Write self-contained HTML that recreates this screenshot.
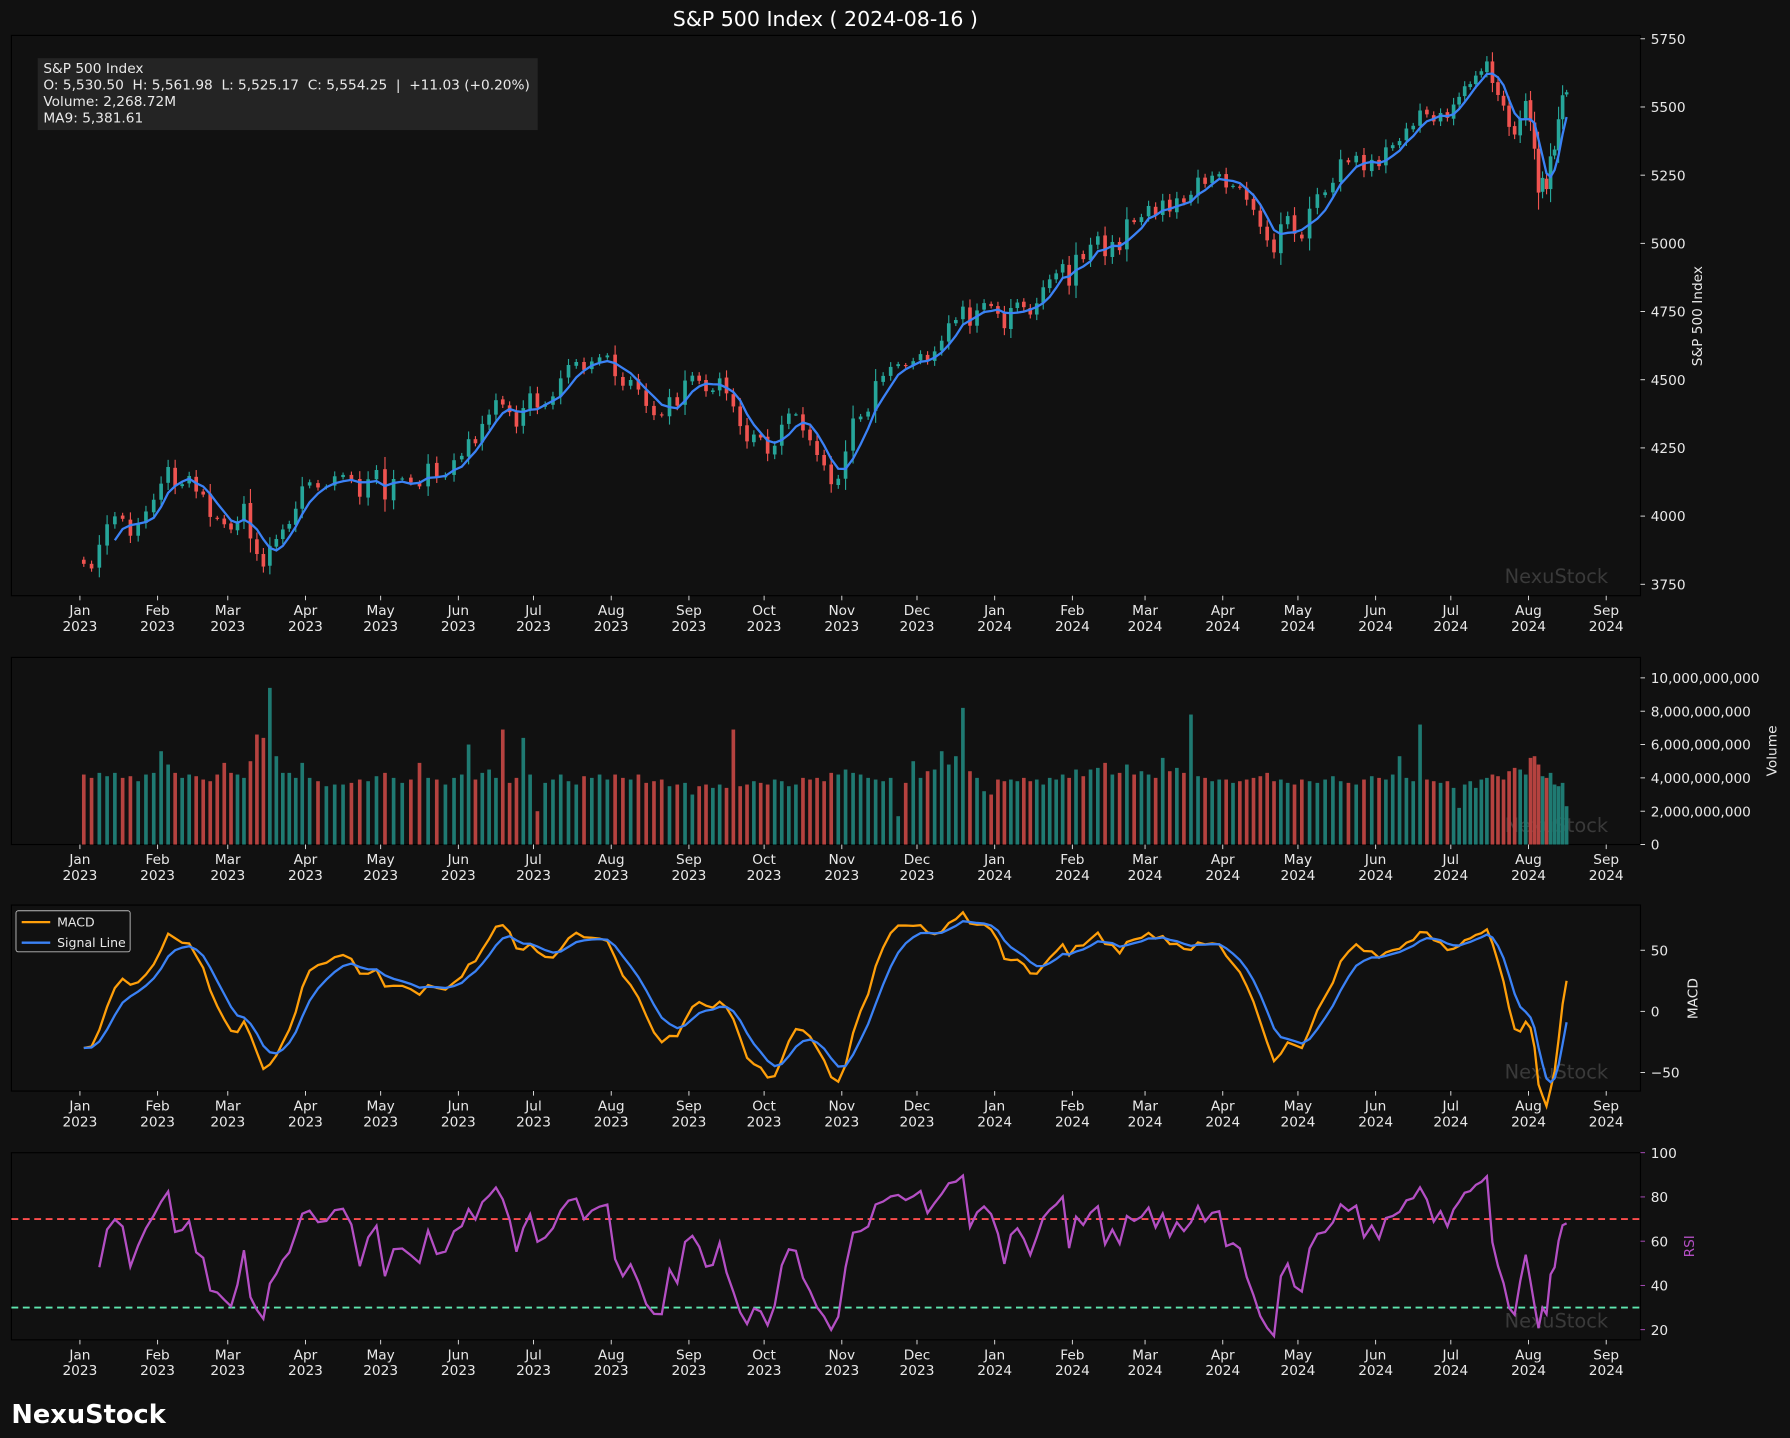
<!DOCTYPE html>
<html><head><meta charset="utf-8"><style>
html,body{margin:0;padding:0;background:#111111;}
svg{display:block;}
text{font-family:"DejaVu Sans","Liberation Sans",sans-serif;}
</style></head><body>
<svg id="chart" width="1790" height="1438" viewBox="0 0 1568 1260" preserveAspectRatio="none" xmlns="http://www.w3.org/2000/svg">
<rect x="0" y="0" width="1568" height="1260" fill="#111111"/>
</svg>
<script>
const months=['2023-01','2023-02','2023-03','2023-04','2023-05','2023-06','2023-07','2023-08','2023-09','2023-10','2023-11','2023-12','2024-01','2024-02','2024-03','2024-04','2024-05','2024-06','2024-07','2024-08'];
const closes=[
[3825,3808,3895,3970,3999,3990,3928,3972,4017,4060],
[4119,4180,4110,4117,4147,4090,4079,3997,3991,3970],
[3951,3981,4045,3918,3861,3815,3891,3916,3951,3971,4027,4109],
[4124,4105,4109,4146,4151,4133,4071,4135,4169],
[4061,4136,4138,4124,4109,4192,4145,4151,4205],
[4221,4282,4267,4338,4372,4425,4409,4381,4328,4396,4450],
[4398,4411,4439,4505,4554,4565,4536,4567,4582,4589],
[4513,4478,4499,4464,4404,4370,4369,4436,4405,4497],
[4515,4496,4458,4461,4505,4450,4402,4330,4274,4299,4288],
[4229,4258,4335,4376,4373,4314,4278,4224,4186,4117,4137],
[4237,4358,4365,4383,4495,4514,4547,4557,4550,4568],
[4594,4569,4604,4643,4707,4719,4768,4698,4754,4781,4770],
[4742,4689,4763,4783,4766,4739,4780,4839,4868,4890,4924,4845],
[4958,4942,4995,5026,4953,5005,4975,5088,5078,5096],
[5137,5104,5157,5117,5165,5150,5178,5241,5218,5248,5254],
[5205,5211,5204,5160,5123,5061,5011,4967,5070,5100,5035],
[5018,5127,5180,5187,5222,5308,5297,5321,5268,5306],
[5283,5352,5360,5375,5421,5431,5487,5473,5447,5478,5460],
[5509,5537,5576,5584,5615,5631,5667,5588,5544,5505,5427,5399,5459,5522],
[5446,5347,5186,5240,5199,5319,5344,5455,5543,5554]];
const volumes=[
[4.2,4.0,4.3,4.1,4.3,4.0,4.1,3.8,4.2,4.3],
[5.6,4.8,4.3,4.0,4.2,4.1,3.9,3.8,4.2,4.9],
[4.3,4.2,4.0,5.0,6.6,6.4,9.4,5.3,4.3,4.3,4.0,4.9],
[4.0,3.8,3.5,3.6,3.6,3.7,3.9,3.8,4.1],
[4.3,4.0,3.7,3.9,4.9,4.0,3.9,3.6,4.0],
[4.2,6.0,3.9,4.3,4.5,4.0,6.9,3.7,4.0,6.4,4.2],
[2.0,3.7,3.9,4.2,3.8,3.6,4.1,4.0,4.2,3.9],
[4.2,4.0,3.9,4.2,3.7,3.8,3.9,3.5,3.6,3.7],
[3.0,3.5,3.6,3.4,3.6,3.4,6.9,3.5,3.6,3.8,3.7],
[3.6,3.9,3.8,3.5,3.6,4.0,3.9,4.0,3.8,4.3,4.2],
[4.5,4.3,4.2,4.0,3.9,3.8,4.0,1.7,3.7,5.0],
[4.0,4.4,4.5,5.6,4.8,5.3,8.2,4.4,4.0,3.2,3.0],
[3.9,3.8,3.9,3.8,4.0,3.8,3.9,3.6,4.0,3.9,4.2,4.0],
[4.5,4.1,4.5,4.6,4.9,4.2,4.3,4.8,4.2,4.4],
[4.2,4.0,5.2,4.4,4.6,4.3,7.8,4.1,4.0,3.8,3.9],
[3.9,3.7,3.8,3.9,4.0,4.1,4.3,3.8,3.9,3.7,3.6],
[3.9,3.8,3.7,3.9,4.1,3.8,3.7,3.6,3.9,4.1],
[4.0,3.9,4.2,5.3,4.0,3.8,7.2,3.9,3.8,3.7,3.8],
[3.4,2.2,3.6,3.8,3.4,3.9,4.0,4.2,4.1,3.9,4.4,4.6,4.5,4.2],
[5.2,5.3,4.8,4.1,4.0,4.3,3.6,3.5,3.7,2.3]];
const priceTicks=[3750,4000,4250,4500,4750,5000,5250,5500,5750];
const volTicks=[0,2,4,6,8,10];
const macdTicks=[-50,0,50];
const rsiTicks=[20,40,60,80,100];
const monthNames=['Jan','Feb','Mar','Apr','May','Jun','Jul','Aug','Sep','Oct','Nov','Dec'];
const infoLines=['S&P 500 Index','O: 5,530.50  H: 5,561.98  L: 5,525.17  C: 5,554.25  |  +11.03 (+0.20%)','Volume: 2,268.72M','MA9: 5,381.61'];

const NS='http://www.w3.org/2000/svg';
const svg=document.getElementById('chart');
function mk(tag,attrs,parent){const e=document.createElementNS(NS,tag);for(const k in attrs)e.setAttribute(k,attrs[k]);(parent||svg).appendChild(e);return e;}
const GREEN='#26a69a',RED='#ef5350',TXT='#e8e8e8';
const X0=10,X1=1437;
function dayOf(y,m,d){return (Date.UTC(y,m,d)-Date.UTC(2023,0,1))/864e5;}
function xDay(d){return 70+d*(1337/609);}
const panels={
 main:{top:31,bot:522,min:3708,max:5762.5},
 vol:{top:576,bot:740,min:0,max:11.23},
 macd:{top:793,bot:956,min:-65.2,max:87},
 rsi:{top:1010,bot:1174,min:15.4,max:100}};
function yOf(p,v){return p.bot-(v-p.min)/(p.max-p.min)*(p.bot-p.top);}

const xs=[],cl=[],vl=[];
months.forEach((ms,mi)=>{const y=+ms.slice(0,4),m=+ms.slice(5)-1;const d0=dayOf(y,m,1);
 let L=dayOf(m==11?y+1:y,(m+1)%12,1)-d0; if(mi===months.length-1)L=16;
 const arr=closes[mi];arr.forEach((c,i)=>{xs.push(d0+(i+0.5)/arr.length*L);cl.push(c);vl.push(volumes[mi][i]);});});
const opens=cl.map((c,i)=>i===0?c+15:cl[i-1]+(i%3-1)*3);

for(const key in panels){const p=panels[key];
 const r=mk('rect',{x:X0,y:p.top,width:X1-X0,height:p.bot-p.top,fill:'#111111',stroke:'#000',"stroke-width":1});
 
 
 const wm=mk('text',{x:1318,y:p.bot-11,fill:'#3a3a3a',"font-size":17});wm.textContent='NexuStock';
 
 
 for(let k=0;k<=20;k++){const y=2023+Math.floor(k/12),m=k%12;const x=xDay(dayOf(y,m,1));
  const t=mk('line',{x1:x,x2:x,y1:p.bot,y2:p.bot+4,stroke:TXT,"stroke-width":0.8});
  
  
  const lb=mk('text',{x:x,y:p.bot+17,fill:TXT,"font-size":12,"text-anchor":"middle"});
  
  
  const s1=mk('tspan',{x:x},lb);s1.textContent=monthNames[m];
  const s2=mk('tspan',{x:x,dy:14},lb);s2.textContent=String(y);
 }
}
function yTicks(p,ticks,fmt,col){ticks.forEach(v=>{const y=yOf(p,v);
 const t=mk('line',{x1:X1,x2:X1+4,y1:y,y2:y,stroke:col||TXT,"stroke-width":0.8});
 
 
 const l=mk('text',{x:X1+9,y:y+4.5,fill:TXT,"font-size":12});l.textContent=fmt(v);
 
 });}
yTicks(panels.main,priceTicks,v=>String(v));
yTicks(panels.vol,volTicks,v=>(v*1e9).toLocaleString('en-US'));
yTicks(panels.macd,macdTicks,v=>v<0?'\u2212'+(-v):String(v));
yTicks(panels.rsi,rsiTicks,v=>String(v),'#b44fc4');
function ylab(x,y,txt,name,col){const t=mk('text',{x:x,y:y,fill:col||TXT,"font-size":12,"text-anchor":"middle",transform:`rotate(-90 ${x} ${y})`});t.textContent=txt;
 
 }
ylab(1491,277,'S&P 500 Index','price-axis-title');
ylab(1556,658,'Volume','volume-axis-title');
ylab(1487,875,'MACD','macd-axis-title');
ylab(1484,1092,'RSI','rsi-axis-title','#b44fc4');

const pm=panels.main,cw=3.2;
cl.forEach((c,i)=>{const o=opens[i];const up=c>=o;const col=up?GREEN:RED;const x=xDay(xs[i]);
 const w=Math.abs(c-o)*0.35+6;const hi=Math.max(o,c)+w,lo=Math.min(o,c)-w;
 const wk=mk('line',{x1:x,x2:x,y1:yOf(pm,hi),y2:yOf(pm,lo),stroke:col,"stroke-width":1});
 
 
 const y1=yOf(pm,Math.max(o,c)),y2=yOf(pm,Math.min(o,c));
 const b=mk('rect',{x:x-cw/2,y:y1,width:cw,height:Math.max(1,y2-y1),fill:col});
 
 
 const vb=mk('rect',{x:x-1.6,y:yOf(panels.vol,vl[i]),width:3.2,height:panels.vol.bot-yOf(panels.vol,vl[i]),fill:up?'#1f7a72':'#b5423f'});
 
 
});
// MA (~9 trading days ≈ 4.3 points)
const W=4.3;let pts=[];
for(let i=4;i<cl.length;i++){const s=cl[i]+cl[i-1]+cl[i-2]+cl[i-3]+0.3*cl[i-4];pts.push(xDay(xs[i]).toFixed(1)+','+yOf(pm,s/W).toFixed(1));}
const ma=mk('polyline',{points:pts.join(' '),fill:'none',stroke:'#3b82f6',"stroke-width":2});



function ema(a,span){const al=2/(span+1);const r=[];a.forEach((v,i)=>r.push(i?al*v+(1-al)*r[i-1]:v));return r;}
const e1=ema(cl,6.2),e2=ema(cl,13);const macd=cl.map((c,i)=>e1[i]-e2[i]-30*Math.exp(-i/8));const sig=ema(macd,4.8);
const pmc=panels.macd;
const ml=mk('polyline',{points:macd.map((v,i)=>xDay(xs[i]).toFixed(1)+','+yOf(pmc,v).toFixed(1)).join(' '),fill:'none',stroke:'#ff9f0a',"stroke-width":2});


const sl=mk('polyline',{points:sig.map((v,i)=>xDay(xs[i]).toFixed(1)+','+yOf(pmc,v).toFixed(1)).join(' '),fill:'none',stroke:'#3b82f6',"stroke-width":2});


const lg=mk('rect',{x:14,y:798,width:100,height:36,fill:'#111111',stroke:'#bbb',"stroke-width":0.8,rx:2});


[['MACD','#ff9f0a',808],['Signal Line','#3b82f6',826]].forEach(([t,c,y])=>{
 const l=mk('line',{x1:19,x2:44,y1:y,y2:y,stroke:c,"stroke-width":2});
 
 
 const tx=mk('text',{x:50,y:y+4,fill:TXT,"font-size":11});tx.textContent=t;
 
 });

const P=6.5;let ag=0,al=0;const rsi=[];
cl.forEach((c,i)=>{if(i===0){rsi.push(50);return;}const d=c-cl[i-1];const g=Math.max(d,0),l=Math.max(-d,0);
 if(i===1){ag=g;al=l;}else{ag=(ag*(P-1)+g)/P;al=(al*(P-1)+l)/P;}
 rsi.push(al===0?100:100-100/(1+ag/al));});
const pr=panels.rsi;
[[70,'#ff4d4d','rsi-overbought-line'],[30,'#5ee6b0','rsi-oversold-line']].forEach(([v,c,n])=>{
 const l=mk('line',{x1:X0,x2:X1,y1:yOf(pr,v),y2:yOf(pr,v),stroke:c,"stroke-width":1.6,"stroke-dasharray":"6,4"});
 
 });
const rl=mk('polyline',{points:rsi.slice(2).map((v,i)=>xDay(xs[i+2]).toFixed(1)+','+yOf(pr,v).toFixed(1)).join(' '),fill:'none',stroke:'#b44fc4',"stroke-width":2});



const ib=mk('rect',{x:33,y:51,width:438,height:63,fill:'#242424'});


infoLines.forEach((t,i)=>{const tx=mk('text',{x:38,y:64+i*14.5,fill:TXT,"font-size":12,style:"white-space:pre"});tx.textContent=t;
 
 });
const ti=mk('text',{x:723,y:23,fill:'#ffffff',"font-size":18,"text-anchor":"middle"});ti.textContent='S&P 500 Index ( 2024-08-16 )';


const br=mk('text',{x:10,y:1247,fill:'#ffffff',"font-size":22.5,"font-weight":"bold"});br.textContent='NexuStock';


</script>
</body></html>
